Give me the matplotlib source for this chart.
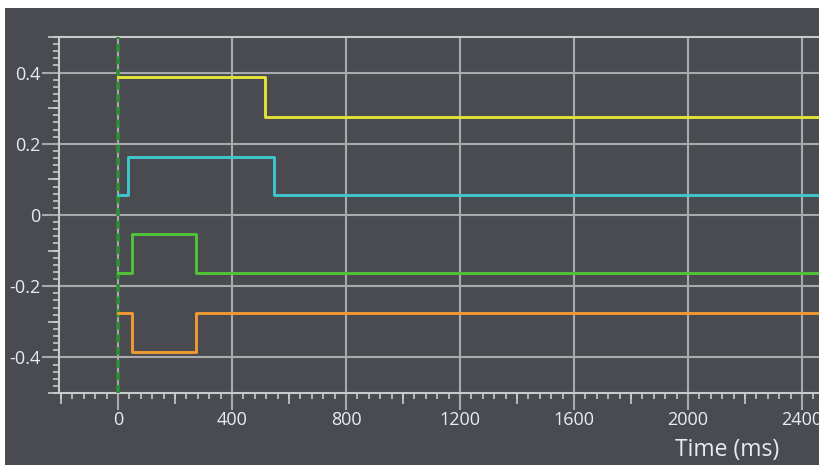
import matplotlib
matplotlib.use("Agg")
import matplotlib.pyplot as plt
from matplotlib.patches import Rectangle
from matplotlib.ticker import MultipleLocator

# ---- data ----
t_yellow = [0, 515, 2600]
v_yellow = [0.388, 0.276, 0.276]
t_cyan = [0, 35, 547, 2600]
v_cyan = [0.055, 0.163, 0.055, 0.055]
t_green = [0, 50, 274, 2600]
v_green = [-0.163, -0.054, -0.163, -0.163]
t_orange = [0, 50, 274, 2600]
v_orange = [-0.275, -0.386, -0.275, -0.275]
x_ticks = [0, 400, 800, 1200, 1600, 2000, 2400]
y_ticks = [-0.4, -0.2, 0, 0.2, 0.4]
y_labels = ["-0.4", "-0.2", "0", "0.2", "0.4"]
x_label = "Time (ms)"

BG = "#4a4b50"
GRID = "#a9aaad"
TXT = "#e8ecf0"
FONT = ["Open Sans", "DejaVu Sans"]

W, H = 819, 465
fig = plt.figure(figsize=(W / 100, H / 100), dpi=100)
fig.patch.set_facecolor("white")
fig.add_artist(Rectangle((5 / W, 0), 1, 1 - 8 / H, transform=fig.transFigure,
                         facecolor=BG, edgecolor="none", zorder=0))

ax = fig.add_axes([59 / W, 72 / H, (W - 59) / W + 0.01, (393 - 37) / H])
ax.set_facecolor(BG)
ax.set_xlim(-207, -207 + (ax.get_position().width * W) / 0.285)
ax.set_ylim(-0.5, 0.5)

for s in ["left", "bottom", "top"]:
    ax.spines[s].set_color("#c8c9cc")
    ax.spines[s].set_linewidth(1.5)
ax.spines["right"].set_visible(False)

ax.set_xticks(x_ticks)
ax.set_xticklabels([str(v) for v in x_ticks])
ax.xaxis.set_minor_locator(MultipleLocator(40))
ax.set_yticks(y_ticks)
ax.set_yticklabels(y_labels)
ax.yaxis.set_minor_locator(MultipleLocator(0.02))

ax.tick_params(axis="both", which="major", length=12, width=1.5, color=GRID,
               labelcolor=TXT, labelsize=13, pad=1.2)
ax.tick_params(axis="both", which="minor", length=4, width=1.2, color="#c8c9cc")
for lab in ax.get_xticklabels() + ax.get_yticklabels():
    lab.set_family(FONT)

ax.grid(True, which="major", color=GRID, linewidth=1.5)

# mid ticks
secy = ax.secondary_yaxis("left")
secy.set_yticks([-0.5, -0.3, -0.1, 0.1, 0.3, 0.5])
secy.set_yticklabels([])
secy.spines["left"].set_visible(False)
secy.tick_params(length=8, width=1.2, color="#c8c9cc")
secx = ax.secondary_xaxis("bottom")
secx.set_xticks([-200, 200, 600, 1000, 1400, 1800, 2200])
secx.set_xticklabels([])
secx.spines["bottom"].set_visible(False)
secx.tick_params(length=8, width=1.2, color="#c8c9cc")

ax.axvline(0, color="#2e8f34", linewidth=2.6, linestyle=(0, (2.2, 1.3)), zorder=3)

lw = 2.1
ax.plot(t_yellow, v_yellow, drawstyle="steps-post", color="#e3e336", lw=lw, zorder=4)
ax.plot(t_cyan, v_cyan, drawstyle="steps-post", color="#3fc7cf", lw=lw, zorder=4)
ax.plot(t_green, v_green, drawstyle="steps-post", color="#52c43a", lw=lw, zorder=4)
ax.plot(t_orange, v_orange, drawstyle="steps-post", color="#ef9a32", lw=lw, zorder=4)

fig.text(779 / W, 1 - 450 / H, x_label, ha="right", va="center", color=TXT,
         fontsize=16.5, family=FONT)

fig.savefig("out.png", dpi=100, facecolor=fig.get_facecolor())
